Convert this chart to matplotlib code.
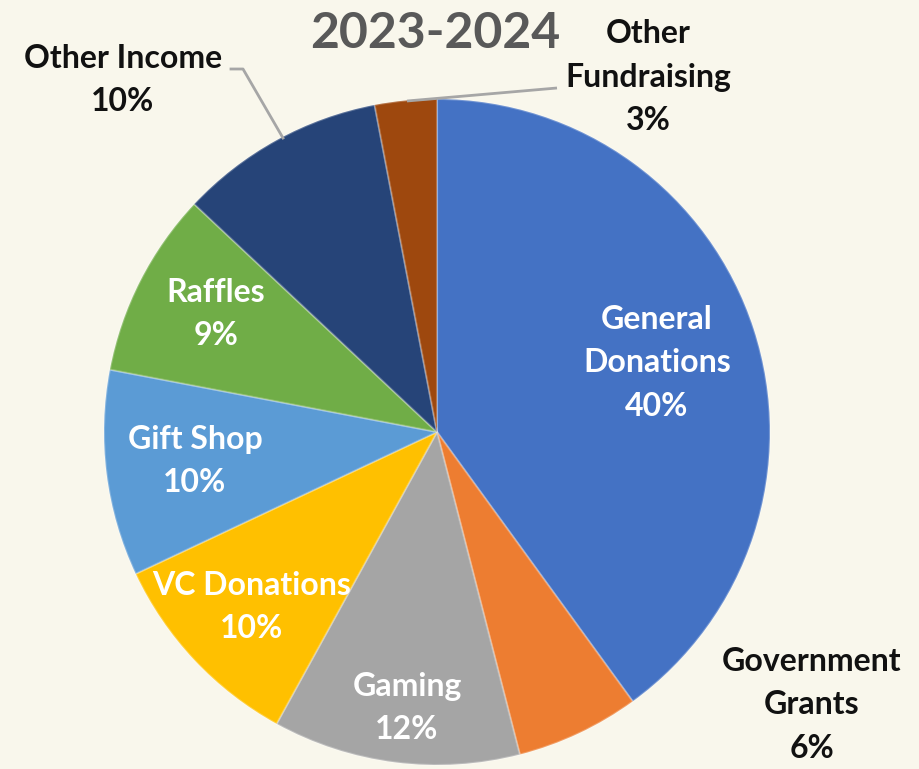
import matplotlib

matplotlib.use("Agg")
import matplotlib.pyplot as plt

# data (clockwise from 12 o'clock)
categories = ["General Donations", "Government Grants", "Gaming", "VC Donations",
              "Gift Shop", "Raffles", "Other Income", "Other Fundraising"]
shares = [40, 6, 12, 10, 10, 9, 10, 3]
colors = ["#4472C4", "#ED7D31", "#A5A5A5", "#FFC000",
          "#5B9BD5", "#70AD47", "#264478", "#9E480E"]
label_text = ["General\nDonations", "Government\nGrants", "Gaming", "VC Donations",
              "Gift Shop", "Raffles", "Other Income", "Other\nFundraising"]
title = "2023-2024"

W, H = 920, 769
BG = "#F9F7EC"

plt.rcParams["font.family"] = ["Lato", "DejaVu Sans"]

fig = plt.figure(figsize=(W / 100, H / 100), dpi=100, facecolor=BG)
ax = fig.add_axes([0, 0, 1, 1])
ax.set_facecolor(BG)


def py(y):
    # pixel row (from top) -> data y
    return H - y


ax.pie(shares, colors=colors, startangle=90, counterclock=False,
       center=(437, py(432)), radius=333, frame=True,
       wedgeprops=dict(linewidth=1.5, edgecolor=(1, 1, 1, 0.25)))
ax.set_xlim(0, W)
ax.set_ylim(0, H)
ax.set_aspect("equal")
ax.axis("off")

# label layout: (x, y centre in px, inside?)
layout = [(657, 363, True), (812, 705, False), (407, 708, True), (252, 607, True),
          (195, 461, True), (216, 314, True), (123, 80, False), (648, 77, False)]
for name, val, (x, y, inside) in zip(label_text, shares, layout):
    ax.text(x, py(y), f"{name}\n{val}%", ha="center", va="center",
            fontsize=23, fontweight="bold", linespacing=1.62,
            color="white" if inside else "#111111")

# leader lines
ax.plot([557, 407], [py(88), py(101)], color="#A6A6A6", lw=2, solid_capstyle="butt")
ax.plot([231, 243, 283], [py(69), py(69), py(138)], color="#A6A6A6", lw=2)

ax.text(435, py(33), title, ha="center", va="center", fontsize=36,
        fontweight="bold", color="#595959")

fig.savefig("out.png", dpi=100, facecolor=BG)
